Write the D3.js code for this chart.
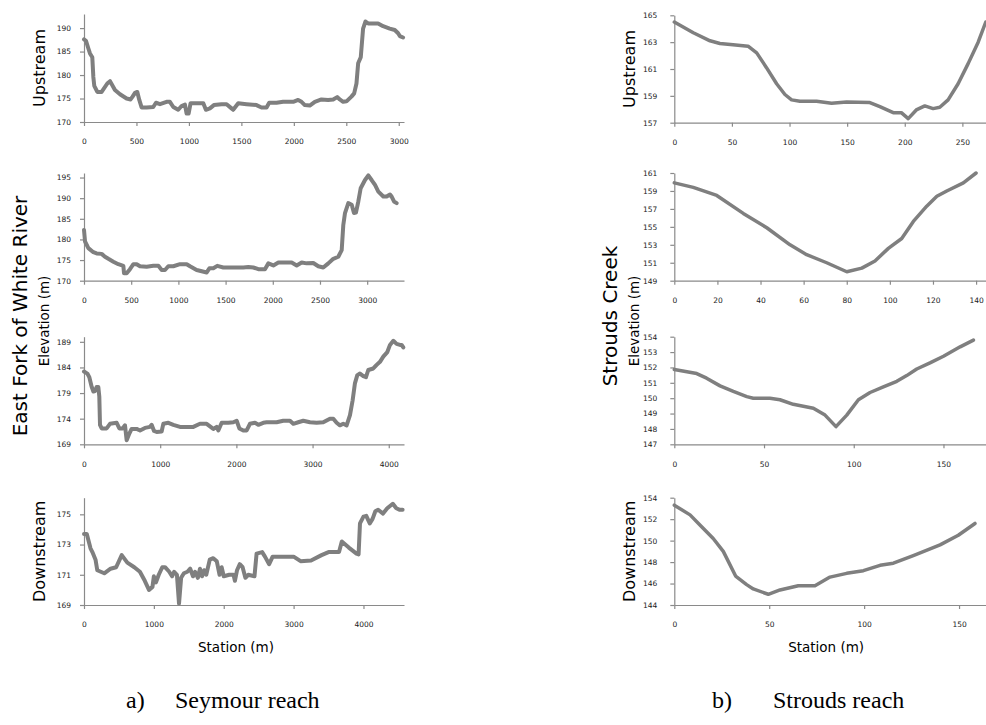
<!DOCTYPE html>
<html>
<head>
<meta charset="utf-8">
<script src="https://cdn.jsdelivr.net/npm/d3@7"></script>
<style>
  body { margin: 0; background: #fff; }
  svg { display: block; }
</style>
</head>
<body>
<svg id="chart" width="986" height="725"></svg>
<script>
// ---- Seymour reach (East Fork of White River) cross sections ----
const seymourUpStation = [0,19,41,57,79,89,98,127,168,222,248,295,343,406,444,463,486,508,527,549,597,660,686,724,787,819,851,898,930,962,978,997,1016,1137,1162,1200,1238,1311,1359,1406,1422,1470,1549,1644,1692,1740,1765,1835,1898,1994,2041,2073,2105,2152,2200,2263,2327,2375,2413,2438,2470,2502,2549,2575,2597,2613,2638,2660,2683,2708,2756,2803,2851,2914,2962,2994,3010,3041];
const seymourUpElev = [187.6,187.3,185.7,184.6,183.8,179.6,177.7,176.4,176.4,178.2,178.7,176.8,175.9,175.0,174.8,175.4,176.2,176.4,174.7,173.1,173.1,173.2,174.1,173.8,174.3,174.3,173.2,172.6,173.4,173.7,171.8,171.8,174.0,174.0,172.6,172.9,173.6,173.8,173.8,172.9,172.6,174.0,173.8,173.6,173.1,173.1,174.1,174.1,174.3,174.3,174.7,174.3,173.6,173.5,174.3,174.8,174.7,174.8,175.3,174.8,174.3,174.4,175.4,176.1,178.2,182.5,183.8,189.9,191.4,191.0,191.0,191.0,190.4,189.9,189.6,188.9,188.3,188.0];

const seymourMidStation = [0,11,46,99,134,187,222,258,311,364,417,424,452,487,523,558,593,664,734,788,823,858,893,946,1017,1088,1123,1193,1247,1300,1328,1370,1412,1476,1582,1688,1741,1794,1847,1917,1953,2006,2059,2129,2200,2253,2306,2359,2429,2482,2535,2588,2641,2694,2730,2747,2765,2800,2836,2860,2881,2906,2931,2977,3012,3047,3083,3118,3171,3206,3242,3259,3284,3312];
const seymourMidElev = [182.3,179.5,177.9,176.9,176.6,176.5,175.8,175.3,174.6,174.0,173.6,171.8,171.8,172.8,174.0,174.0,173.5,173.4,173.6,173.6,172.6,172.6,173.5,173.5,174.0,174.0,173.5,172.6,172.3,172.0,173.0,173.0,173.6,173.2,173.2,173.2,173.3,173.2,172.8,172.8,174.2,173.7,174.4,174.4,174.4,173.7,174.4,174.2,174.3,173.5,173.2,174.2,175.3,175.8,177.4,183.5,186.4,188.8,188.4,186.4,186.5,189.2,192.4,194.4,195.5,194.4,193.2,191.6,190.4,190.4,190.9,190.4,189.2,188.8];

const seymourLowStation = [0,44,70,101,123,144,166,188,201,210,232,297,341,429,464,507,538,560,595,625,691,735,800,866,888,919,954,1019,1041,1107,1173,1260,1348,1435,1522,1610,1697,1741,1763,1807,1894,1960,2004,2039,2091,2135,2178,2244,2288,2353,2397,2528,2615,2703,2747,2812,2878,2966,3053,3140,3228,3272,3316,3359,3403,3447,3491,3526,3556,3587,3622,3666,3701,3731,3797,3841,3885,3928,3981,4016,4060,4103,4147,4169,4191];
const seymourLowElev = [183.2,182.8,182.1,180.2,179.3,179.4,180.2,180.2,178.3,172.8,172.1,172.1,173.0,173.2,172.1,172.1,172.7,169.8,171.1,172.0,172.0,171.7,172.2,172.4,172.8,171.6,171.4,171.5,173.0,173.2,172.8,172.4,172.4,172.4,173.0,173.0,172.0,172.4,171.7,173.2,173.2,173.3,173.6,172.1,171.7,171.7,173.0,173.2,172.8,173.2,173.3,173.3,173.6,173.6,173.0,173.3,173.6,173.3,173.2,173.3,174.0,174.0,173.2,172.7,173.0,172.7,174.7,177.6,180.9,182.5,182.8,182.3,182.1,183.5,183.8,184.5,185.1,186.1,187.0,188.4,189.2,188.6,188.4,188.4,187.9];

const seymourDownStation = [0,40,93,120,165,190,290,380,460,540,620,720,800,870,930,980,1000,1030,1070,1120,1160,1220,1260,1290,1330,1360,1390,1430,1480,1520,1560,1590,1630,1660,1690,1720,1750,1800,1850,1900,1940,1970,2000,2080,2140,2160,2190,2230,2270,2310,2350,2440,2470,2550,2590,2650,2700,2850,3000,3100,3250,3400,3500,3650,3690,3790,3900,3930,3950,4000,4040,4090,4130,4170,4210,4280,4340,4420,4470,4520,4560];
const seymourDownElev = [173.7,173.7,172.75,172.5,172.0,171.3,171.1,171.4,171.5,172.3,171.8,171.5,171.2,170.6,170.0,170.2,170.9,170.5,171.0,171.5,171.5,171.2,170.9,171.2,171.0,169.1,170.8,171.1,171.2,171.4,170.9,171.2,170.8,171.4,170.9,171.3,171.0,172.0,172.1,171.9,171.0,171.5,170.9,171.0,171.0,170.6,171.3,171.7,171.5,170.8,171.0,170.9,172.4,172.5,172.2,171.7,172.2,172.2,172.2,171.9,171.95,172.3,172.5,172.5,173.2,172.8,172.4,172.35,174.4,174.85,174.9,174.4,174.7,175.2,175.3,175.05,175.4,175.7,175.4,175.3,175.3];

// ---- Strouds reach (Strouds Creek) cross sections ----
const stroudsUpStation = [0,16.5,31,39.6,51,64,71.5,80,88.8,96,101.8,109,123.5,136.5,149.5,169.7,178.4,190,197,203,210,217.4,224.6,230.4,237.6,246.3,255,263.7,270.3];
const stroudsUpElev = [164.5,163.7,163.1,162.9,162.8,162.7,162.2,161.1,159.9,159.1,158.7,158.6,158.6,158.45,158.55,158.5,158.2,157.75,157.75,157.3,157.95,158.25,158.05,158.15,158.7,159.9,161.4,163.0,164.5];

const stroudsMidStation = [0,8.8,19.7,32,42.9,53.7,61.4,70.7,80,87,93.1,99.3,105.5,110.9,117.1,121.8,126.4,134.1,140];
const stroudsMidElev = [159.9,159.4,158.5,156.5,154.9,153.0,151.9,151.0,150.0,150.4,151.2,152.6,153.7,155.6,157.3,158.4,159.0,159.9,161.0];

const stroudsLowStation = [0,12.5,18,25.5,32.9,40.4,44,53.3,58.9,66.3,77.5,84,90.1,96.1,102.6,109.1,116.5,124,129.5,135.1,142.5,150,159.3,166.7];
const stroudsLowElev = [151.86,151.6,151.3,150.8,150.44,150.1,150.0,150.0,149.9,149.6,149.35,148.9,148.15,148.9,149.9,150.37,150.73,151.1,151.47,151.9,152.3,152.73,153.34,153.78];

const stroudsDownStation = [0,8.3,14.4,20.5,25.8,32.3,38.1,41.6,49.5,55.7,65.3,74.1,82,90.8,99.6,108.4,115.4,125.9,140,149.6,158.4];
const stroudsDownElev = [153.3,152.4,151.3,150.2,149.0,146.7,145.9,145.5,145.0,145.4,145.8,145.8,146.6,146.95,147.2,147.7,147.9,148.6,149.6,150.5,151.6];

// ---- axis extents and tick labels ----
const seymourXMax = [3050, 3390, 4200, 4580];
const stroudsXMax = [270.5, 144.6, 173.7, 164.2];
const seymourYDomain = [[170, 193], [170, 196.1], [169, 190], [169, 176.1]];
const stroudsYDomain = [[157, 165], [149, 161], [147, 154], [144, 154]];

const seymourXTicks = [[0,500,1000,1500,2000,2500,3000],[0,500,1000,1500,2000,2500,3000],[0,1000,2000,3000,4000],[0,1000,2000,3000,4000]];
const stroudsXTicks = [[0,50,100,150,200,250],[0,20,40,60,80,100,120,140],[0,50,100,150],[0,50,100,150]];
const seymourYTicks = [[170,175,180,185,190],[170,175,180,185,190,195],[169,174,179,184,189],[169,171,173,175]];
const stroudsYTicks = [[157,159,161,163,165],[149,151,153,155,157,159,161],[147,148,149,150,151,152,153,154],[144,146,148,150,152,154]];

const rowLabels = ["Upstream", null, null, "Downstream"];
const riverNames = ["East Fork of White River", "Strouds Creek"];
const captions = [["a)", "Seymour reach"], ["b)", "Strouds reach"]];

// ---- layout ----
const svg = d3.select("#chart");
const columns = [
  { x0: 84, x1: 404, rows: [[14,122],[173,280.7],[336.7,444.3],[497.7,605]], yPad: 9,
    stations: [seymourUpStation, seymourMidStation, seymourLowStation, seymourDownStation],
    elevs: [seymourUpElev, seymourMidElev, seymourLowElev, seymourDownElev],
    xMax: seymourXMax, yDomain: seymourYDomain, xTicks: seymourXTicks, yTicks: seymourYTicks,
    stroke: 4 },
  { x0: 674.3, x1: 986, rows: [[15.3,122.7],[173,280.7],[336.7,444.3],[497.7,605]], yPad: 13,
    stations: [stroudsUpStation, stroudsMidStation, stroudsLowStation, stroudsDownStation],
    elevs: [stroudsUpElev, stroudsMidElev, stroudsLowElev, stroudsDownElev],
    xMax: stroudsXMax, yDomain: stroudsYDomain, xTicks: stroudsXTicks, yTicks: stroudsYTicks,
    stroke: 3.5 }
];

const axisColor = "#8a8a8a";
const lineColor = "#7f7f7f";
const tickFont = "DejaVu Sans, Verdana, sans-serif";

columns.forEach((col, ci) => {
  col.rows.forEach(([top, bottom], ri) => {
    const x = d3.scaleLinear().domain([0, col.xMax[ri]]).range([col.x0, col.x1]);
    const y = d3.scaleLinear().domain(col.yDomain[ri]).range([bottom, top]);
    const g = svg.append("g");

    const xa = g.append("g")
      .attr("transform", `translate(0,${bottom})`)
      .call(d3.axisBottom(x).tickValues(col.xTicks[ri]).tickSize(4).tickSizeOuter(0).tickPadding(13).tickFormat(d3.format("d")));
    const ya = g.append("g")
      .attr("transform", `translate(${col.x0},0)`)
      .call(d3.axisLeft(y).tickValues(col.yTicks[ri]).tickSize(4).tickSizeOuter(0).tickPadding(col.yPad).tickFormat(d3.format("d")));

    [xa, ya].forEach(a => {
      a.attr("font-family", tickFont).attr("font-size", 7.5);
      a.select(".domain").attr("stroke", axisColor).attr("stroke-width", 1.2);
      a.selectAll(".tick line").attr("stroke", axisColor).attr("stroke-width", 1.2);
      a.selectAll(".tick text").attr("fill", "#1a1a1a");
    });

    const pts = d3.zip(col.stations[ri], col.elevs[ri]);
    g.append("path")
      .datum(pts)
      .attr("fill", "none")
      .attr("stroke", lineColor)
      .attr("stroke-width", col.stroke)
      .attr("stroke-linejoin", "round")
      .attr("stroke-linecap", "round")
      .attr("d", d3.line().x(d => x(d[0])).y(d => y(d[1])));

    if (rowLabels[ri]) {
      svg.append("text")
        .attr("transform", `translate(${col.x0 - 45},${(top + bottom) / 2}) rotate(-90)`)
        .attr("text-anchor", "middle")
        .attr("dominant-baseline", "central")
        .attr("font-family", tickFont)
        .attr("font-size", 16)
        .text(rowLabels[ri]);
    }
    if (ri === 3) {
      svg.append("text")
        .attr("x", (col.x0 + col.x1) / 2 + (ci === 0 ? -8 : -4))
        .attr("y", bottom + 47)
        .attr("text-anchor", "middle")
        .attr("font-family", tickFont)
        .attr("font-size", 13.5)
        .text("Station (m)");
    }
  });

  // river name and shared y-axis title
  svg.append("text")
    .attr("transform", `translate(${col.x0 - 64},316) rotate(-90)`)
    .attr("text-anchor", "middle")
    .attr("dominant-baseline", "central")
    .attr("font-family", tickFont)
    .attr("font-size", 20)
    .text(riverNames[ci]);
  svg.append("text")
    .attr("transform", `translate(${col.x0 - 40},321) rotate(-90)`)
    .attr("text-anchor", "middle")
    .attr("dominant-baseline", "central")
    .attr("font-family", tickFont)
    .attr("font-size", 13.5)
    .text("Elevation (m)");

  // panel caption
  const cap = svg.append("text")
    .attr("y", 708)
    .attr("font-family", "Liberation Serif, Times New Roman, serif")
    .attr("font-size", 24);
  cap.append("tspan").attr("x", ci === 0 ? 126 : 712).text(captions[ci][0]);
  cap.append("tspan").attr("x", ci === 0 ? 175 : 773).text(captions[ci][1]);
});
</script>
</body>
</html>
